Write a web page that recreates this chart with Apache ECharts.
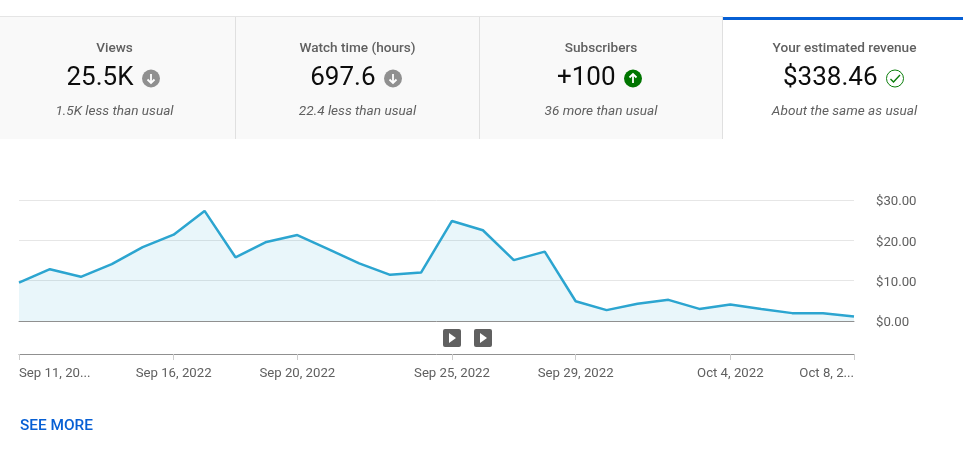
<!DOCTYPE html>
<html>
<head>
<meta charset="utf-8">
<style>html,body{margin:0;padding:0;background:#fff}#c{width:963px;height:450px}</style>
<script src="https://cdn.jsdelivr.net/npm/echarts@6/dist/echarts.min.js"></script>
</head>
<body>
<div id="c"></div>
<script>
var categories = ['Sep 11, 2022','Sep 12, 2022','Sep 13, 2022','Sep 14, 2022','Sep 15, 2022','Sep 16, 2022','Sep 17, 2022','Sep 18, 2022','Sep 19, 2022','Sep 20, 2022','Sep 21, 2022','Sep 22, 2022','Sep 23, 2022','Sep 24, 2022','Sep 25, 2022','Sep 26, 2022','Sep 27, 2022','Sep 28, 2022','Sep 29, 2022','Sep 30, 2022','Oct 1, 2022','Oct 2, 2022','Oct 3, 2022','Oct 4, 2022','Oct 5, 2022','Oct 6, 2022','Oct 7, 2022','Oct 8, 2022'];
var revenue = [9.5,12.85,10.95,14.1,18.3,21.4,27.3,15.8,19.6,21.3,17.8,14.3,11.45,12.0,24.8,22.5,15.1,17.2,4.9,2.7,4.3,5.25,3.0,4.1,3.0,1.95,1.95,1.1];
var tickDates = ['Sep 11, 2022','Sep 16, 2022','Sep 20, 2022','Sep 25, 2022','Sep 29, 2022','Oct 4, 2022','Oct 8, 2022'];
var tickLabels = ['Sep 11, 20...','Sep 16, 2022','Sep 20, 2022','Sep 25, 2022','Sep 29, 2022','Oct 4, 2022','Oct 8, 2...'];
var cardTitles = ['Views','Watch time (hours)','Subscribers','Your estimated revenue'];
var cardValues = ['25.5K','697.6','+100','$338.46'];
var cardNotes = ['1.5K less than usual','22.4 less than usual','36 more than usual','About the same as usual'];
var cardStates = ['down','down','up','same'];

var FONT = 'Roboto';
var centers = [114.5, 357.5, 601, 844.5];
var iconX = [151, 393, 633, 895];
var g = [];
g.push({type:'rect',shape:{x:0,y:17,width:723,height:122},style:{fill:'#f9f9f9'},silent:true});
g.push({type:'rect',shape:{x:0,y:16,width:723,height:1},style:{fill:'#e5e5e5'},silent:true});
[235,479,722].forEach(function(x){
  g.push({type:'rect',shape:{x:x,y:17,width:1,height:122},style:{fill:'#e0e0e0'},silent:true});
});
g.push({type:'rect',shape:{x:723,y:17,width:240,height:3},style:{fill:'#065fd4'},silent:true});
cardTitles.forEach(function(t,i){
  g.push({type:'text',style:{x:centers[i],y:48.5,text:t,align:'center',verticalAlign:'middle',font:'500 13.6px '+FONT,fill:'#606060'}});
  g.push({type:'text',style:{x:iconX[i]-17.5,y:78.5,text:cardValues[i],align:'right',verticalAlign:'middle',font:'400 26px '+FONT,fill:'#0d0d0d'}});
  g.push({type:'text',style:{x:centers[i],y:111.5,text:cardNotes[i],align:'center',verticalAlign:'middle',font:'italic 400 13.6px '+FONT,fill:'#606060'}});
  var x=iconX[i], y=78.5, s=cardStates[i];
  if(s==='same'){
    g.push({type:'circle',shape:{cx:x,cy:y,r:8.5},style:{fill:'#fff',stroke:'#0a7d0a',lineWidth:1}});
    g.push({type:'polyline',shape:{points:[[x-4.5,y+0.5],[x-1.5,y+3.5],[x+5,y-3.5]]},style:{fill:'none',stroke:'#0a7d0a',lineWidth:1.4}});
  } else {
    var col = s==='up' ? '#007500' : '#909090';
    var d = s==='up' ? -1 : 1;
    g.push({type:'circle',shape:{cx:x,cy:y,r:9},style:{fill:col}});
    g.push({type:'line',shape:{x1:x,y1:y-4.5*d,x2:x,y2:y+4.5*d},style:{stroke:'#fff',lineWidth:1.8}});
    g.push({type:'polyline',shape:{points:[[x-3.5,y+1*d],[x,y+4.5*d],[x+3.5,y+1*d]]},style:{fill:'none',stroke:'#fff',lineWidth:1.8}});
  }
});
[443,474].forEach(function(x){
  g.push({type:'rect',shape:{x:x,y:329,width:18,height:18,r:2},style:{fill:'#606060'}});
  g.push({type:'polygon',shape:{points:[[x+6,333],[x+6,343],[x+13,338]]},style:{fill:'#fff'}});
});
g.push({type:'text',style:{x:20,y:426,text:'SEE MORE',align:'left',verticalAlign:'middle',font:'500 15.4px '+FONT,fill:'#065fd4'}});

var chart = echarts.init(document.getElementById('c'),null,{renderer:'canvas'});
function isTick(i,v){return tickDates.indexOf(v)>=0;}
chart.setOption({
  animation:false,
  textStyle:{fontFamily:FONT},
  graphic:{elements:g},
  grid:{left:19,right:109,top:200,height:121,containLabel:false},
  xAxis:[
    {type:'category',data:categories,boundaryGap:false,position:'bottom',offset:33,
     axisLine:{show:true,onZero:false,lineStyle:{color:'#909090',width:1}},
     axisTick:{show:true,length:6,interval:isTick,lineStyle:{color:'#cccccc'}},
     axisLabel:{show:true,interval:isTick,margin:13,color:'#606060',fontSize:13.2,fontFamily:FONT,
       alignMinLabel:'left',alignMaxLabel:'right',hideOverlap:false,
       formatter:function(v){return tickLabels[tickDates.indexOf(v)];}},
     splitLine:{show:false}},
    {type:'category',data:categories,boundaryGap:false,position:'bottom',offset:0,
     axisLine:{show:true,onZero:false,lineStyle:{color:'#909090',width:1}},
     axisTick:{show:false},axisLabel:{show:false},splitLine:{show:false}}
  ],
  yAxis:{type:'value',position:'right',min:0,max:30,interval:10,
    axisLine:{show:false},axisTick:{show:false},
    axisLabel:{margin:22,color:'#606060',fontSize:13.2,fontFamily:FONT,
      rich:{v:{color:'#606060',fontSize:13.2,fontFamily:FONT,padding:[4,0,0,0]}},
      formatter:function(v){return '{v|$'+v.toFixed(2)+'}';}},
    splitLine:{show:true,lineStyle:{color:'#e6e6e6',width:1}}},
  series:[{type:'line',name:'Your estimated revenue',data:revenue,xAxisIndex:0,symbol:'none',smooth:false,
    lineStyle:{color:'#2ca5d0',width:2.5},areaStyle:{color:'rgba(43,166,211,0.105)',opacity:1},z:3}]
});
</script>
</body>
</html>
